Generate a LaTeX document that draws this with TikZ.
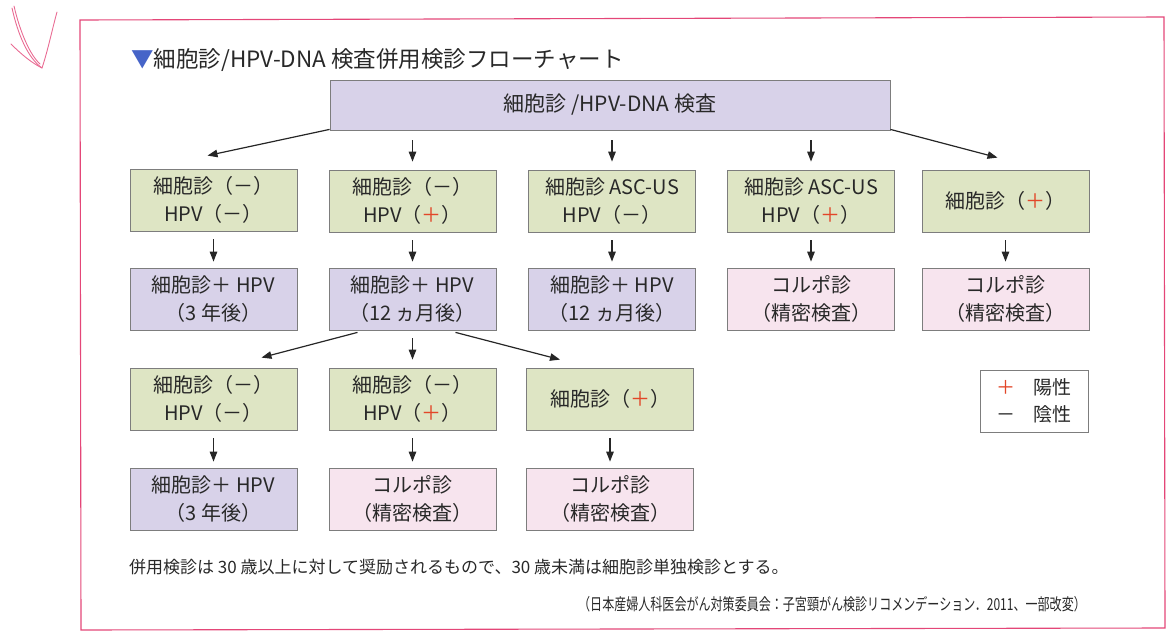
\documentclass[tikz,border=0pt]{standalone}
\usepackage{fontspec}
\setmainfont{Noto Sans CJK JP}
\usetikzlibrary{arrows.meta}
\definecolor{bgreen}{RGB}{222,229,196}
\definecolor{blav}{RGB}{216,210,233}
\definecolor{bpink}{RGB}{247,228,238}
\definecolor{bord}{RGB}{125,125,125}
\definecolor{txt}{RGB}{40,40,40}
\definecolor{pred}{RGB}{226,70,40}
\definecolor{pframe}{RGB}{228,70,120}
\definecolor{tri}{RGB}{70,100,200}
\newcommand{\pp}{\textcolor{pred}{＋}}
\begin{document}
\begin{tikzpicture}[x=1pt,y=-1pt,
  box/.style={draw=bord, line width=0.8pt, minimum width=167pt, minimum height=62pt,
    align=center, font=\fontsize{20}{28}\selectfont, text=txt, inner sep=0pt},
  gbox/.style={box, fill=bgreen},
  lbox/.style={box, fill=blav},
  pbox/.style={box, fill=bpink},
  arr/.style={-{Triangle[length=10pt,width=7.5pt]}, line width=1.2pt, draw=black!85},
  scrib/.style={draw=pframe!80, line width=0.9pt, line cap=round, line join=round}]
\useasboundingbox (0,0) rectangle (1168,640);
% frame
\draw[draw=pframe, line width=1.1pt] (80,20) -- (1164,17) -- (1165,628) -- (81,630) -- cycle;
% scribbles
\draw[scrib] (12,8) .. controls (18,35) and (28,58) .. (42,68) .. controls (48,50) and (52,30) .. (57,12);
\draw[scrib] (14,6) .. controls (20,32) and (30,55) .. (40,64);
\draw[scrib] (11,44) .. controls (22,55) and (32,63) .. (42,68);
% title
\node[anchor=west, text=txt, font=\fontsize{22.5}{26}\selectfont, inner sep=0pt] (title) at (131,60)
  {\textcolor{tri}{▼}細胞診/HPV-DNA 検査併用検診フローチャート};
% top box
\node[lbox, minimum width=560pt, minimum height=50pt, font=\fontsize{21}{26}\selectfont] (top) at (610,105) {細胞診 /HPV-DNA 検査};
% row 1
\node[gbox] (b11) at (213.5,200) {細胞診（－）\\HPV（－）};
\node[gbox] (b12) at (412.5,201) {細胞診（－）\\HPV（\pp）};
\node[gbox] (b13) at (612,201) {細胞診 ASC-US\\HPV（－）};
\node[gbox] (b14) at (811,201) {細胞診 ASC-US\\HPV（\pp）};
\node[gbox] (b15) at (1005.5,201) {細胞診（\pp）};
% row 2
\node[lbox] (b21) at (213.5,299) {細胞診＋ HPV\\（3 年後）};
\node[lbox] (b22) at (412.5,299) {細胞診＋ HPV\\（12 ヵ月後）};
\node[lbox] (b23) at (612,299) {細胞診＋ HPV\\（12 ヵ月後）};
\node[pbox] (b24) at (811,299) {コルポ診\\（精密検査）};
\node[pbox] (b25) at (1005.5,299) {コルポ診\\（精密検査）};
% row 3
\node[gbox] (b31) at (213.5,399) {細胞診（－）\\HPV（－）};
\node[gbox] (b32) at (412.5,399) {細胞診（－）\\HPV（\pp）};
\node[gbox] (b33) at (610,399) {細胞診（\pp）};
% row 4
\node[lbox] (b41) at (213.5,499) {細胞診＋ HPV\\（3 年後）};
\node[pbox] (b42) at (412.5,499) {コルポ診\\（精密検査）};
\node[pbox] (b43) at (610,499) {コルポ診\\（精密検査）};
% legend
\node[draw=bord, line width=0.8pt, fill=white, minimum width=108pt, minimum height=62pt, inner sep=0pt,
  align=left, text=txt, font=\fontsize{19}{27}\selectfont] (leg) at (1034,401)
  {\pp\hspace{0.9em}陽性\\－\hspace{0.9em}陰性};
% arrows from top
\draw[arr] ([xshift=0pt,yshift=1pt]top.south west) -- ([xshift=-6pt,yshift=13pt]b11.north);
\draw[arr] ([yshift=-10pt]top.south -| b12.north) -- ([yshift=8pt]b12.north);
\draw[arr] ([yshift=-10pt]top.south -| b13.north) -- ([yshift=8pt]b13.north);
\draw[arr] ([yshift=-10pt]top.south -| b14.north) -- ([yshift=8pt]b14.north);
\draw[arr] ([yshift=1pt]top.south east) -- ([xshift=-8pt,yshift=12pt]b15.north);
% row1 -> row2
\foreach \i in {1,...,5}{
  \draw[arr] ([yshift=-8pt]b1\i.south) -- ([yshift=6pt]b2\i.north);
}
% row2 -> row3
\draw[arr] ([xshift=-55pt,yshift=-2pt]b22.south) -- ([xshift=48pt,yshift=10pt]b31.north);
\draw[arr] ([yshift=-8pt]b22.south) -- ([yshift=8pt]b32.north);
\draw[arr] ([xshift=43pt,yshift=-2pt]b22.south) -- ([xshift=-50pt,yshift=8pt]b33.north);
% row3 -> row4
\foreach \i in {1,2,3}{
  \draw[arr] ([yshift=-8pt]b3\i.south) -- ([yshift=6pt]b4\i.north);
}
% footnotes
\node[anchor=west, text=txt, font=\fontsize{17}{20}\selectfont, inner sep=0pt] (fn) at (129,567)
  {併用検診は 30 歳以上に対して奨励されるもので、30 歳未満は細胞診単独検診とする。};
\node[anchor=east, text=txt, font=\fontsize{16.5}{20}\selectfont, inner sep=0pt, xscale=0.73] (cite) at (1086,604)
  {（日本産婦人科医会がん対策委員会：子宮頸がん検診リコメンデーション．2011、一部改変）};
\end{tikzpicture}
\end{document}
